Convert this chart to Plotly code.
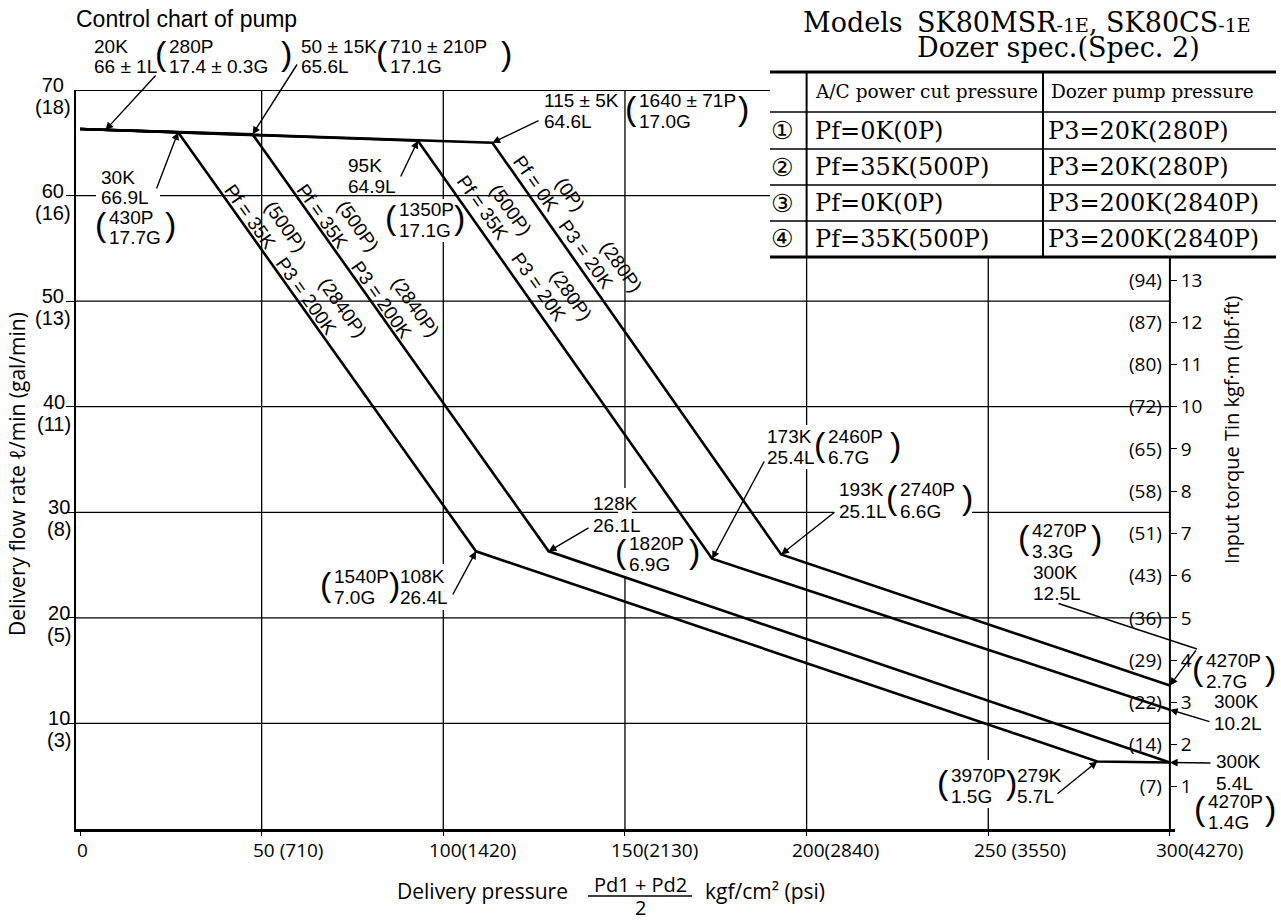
import math
import plotly.graph_objects as go

# ---------------- data ----------------
# delivery pressure kgf/cm2 (x) and delivery flow L/min (y) break points
c1_p = [0, 113.5, 193, 300]        # (1) Pf=0K  P3=20K
c1_q = [66.3, 65.0, 26.0, 13.6]
c2_p = [0, 93, 174, 300]           # (2) Pf=35K P3=20K
c2_q = [66.3, 65.2, 25.6, 11.3]
c3_p = [0, 47.5, 129, 300]         # (3)
c3_q = [66.3, 65.8, 26.3, 6.3]
c4_p = [0, 27, 109, 280, 300]      # (4) Pf=35K P3=200K
c4_q = [66.3, 66.0, 26.3, 6.4, 6.3]
p20_p, p20_q = 7, 66.2             # point marked "20K 66±1L" on the common line

x_ticks = [0, 50, 100, 150, 200, 250, 300]
x_psi = ["", " (710)", "(1420)", "(2130)", "(2840)", " (3550)", "(4270)"]
y_ticks = [10, 20, 30, 40, 50, 60, 70]
y_gal = ["(3)", "(5)", "(8)", "(11)", "(13)", "(16)", "(18)"]
t_ticks = list(range(1, 14))
t_lbf = ["(7)", "(14)", "(22)", "(29)", "(36)", "(43)", "(51)",
         "(58)", "(65)", "(72)", "(80)", "(87)", "(94)"]

tbl_head = ["A/C power cut pressure", "Dozer pump pressure"]
tbl_no = ["①", "②", "③", "④"]
tbl_pf = ["Pf=0K(0P)", "Pf=35K(500P)", "Pf=0K(0P)", "Pf=35K(500P)"]
tbl_p3 = ["P3=20K(280P)", "P3=20K(280P)", "P3=200K(2840P)", "P3=200K(2840P)"]

grid_h_full = [10, 20, 30, 40, 50]
grid_h_short = [60]
grid_v_full = [50, 100, 150]
grid_v_short = [200, 250]

# ---------------- geometry helpers ----------------
WIDTH, HEIGHT = 1281, 922
L, R, T, B = 76, 1175, 90, 829
XMIN, XMAX = -1.1, 301.4
YMIN, YMAX = 0, 70

def dx(px):
    return XMIN + (px - L) / (R - L) * (XMAX - XMIN)

def dy(py):
    return YMIN + (B - py) / (B - T) * (YMAX - YMIN)

def pxp(px):
    return (px - L) / (R - L)

def pyp(py):
    return (B - py) / (B - T)

def px_of(x):
    return L + (x - XMIN) / (XMAX - XMIN) * (R - L)

def py_of(y):
    return B - (y - YMIN) / (YMAX - YMIN) * (B - T)

SANS = "Open Sans"
LAB = "Liberation Sans"
SERIF = "DejaVu Serif"
FS = 19
NB = "\u00a0"
ann = []

def txt(s, px, py, size=FS, xa="left", fam=SANS, ang=0):
    ann.append(dict(text=s, x=pxp(px), y=pyp(py), xref="paper", yref="paper",
                    xanchor=xa, yanchor="middle", showarrow=False,
                    font=dict(family=fam, size=size, color="black"),
                    textangle=ang, borderpad=0))

def raw_stack(text, nlines, px, py_first, lh, xa="left", align="left", fam=LAB):
    yc = py_first + (nlines - 1) * lh / 2
    ann.append(dict(text=text, x=pxp(px), y=pyp(yc), xref="paper", yref="paper",
                    xanchor=xa, yanchor="middle", align=align, showarrow=False,
                    font=dict(family=fam, size=lh / 1.3, color="black"), borderpad=0))

def stack(lines, px, py_first, lh=21, size=FS, xa="left", align="left", fam=LAB):
    """multi-line label with a tight line pitch (lh px)"""
    text = "<br>".join("<span style='font-size:%dpx'>%s</span>" % (size, s) for s in lines)
    raw_stack(text, len(lines), px, py_first, lh, xa=xa, align=align, fam=fam)

def par(s, px, py):
    # tall bracket; "(" : px is right edge ; ")" : px is left edge
    txt(s, px, py - 3, size=34, xa="right" if s == "(" else "left", fam=LAB)

# approximate Liberation Sans advance widths (em)
LSW = {c: 0.556 for c in "0123456789"}
LSW.update({"P": 0.667, "f": 0.278, "K": 0.667, "=": 0.584, " ": 0.278, NB: 0.278,
            "(": 0.333, ")": 0.333})

def tw(s, size=FS):
    return sum(LSW.get(c, 0.55) for c in s) * size

ANG = 54.7
TH = math.radians(ANG)
U = (math.cos(TH), math.sin(TH))
N = (math.sin(TH), -math.cos(TH))

def proj(c, o):
    ddx, ddy = c[0] - o[0], c[1] - o[1]
    return ddx * U[0] + ddy * U[1], ddx * N[0] + ddy * N[1]

def rot_block(l2a, c2a, l2b, c2b, l1a, c1a, l1b, c1b, size=FS):
    """two-line label rotated along a descending line; centres in px"""
    o = c2a
    s2b, t2b = proj(c2b, o)
    s1a, t1a = proj(c1a, o)
    s1b, t1b = proj(c1b, o)
    w2a, w2b, w1a, w1b = tw(l2a), tw(l2b), tw(l1a), tw(l1b)
    st2a, st2b = -w2a / 2, s2b - w2b / 2
    st1a, st1b = s1a - w1a / 2, s1b - w1b / 2
    left = min(st2a, st1a)
    sp = tw(" ")
    k2 = round((st2a - left) / sp)
    g2 = max(1, round((st2b - (st2a + w2a)) / sp))
    k1 = round((st1a - left) / sp)
    g1 = max(1, round((st1b - (st1a + w1a)) / sp))
    line1 = NB * k1 + l1a + NB * g1 + l1b
    line2 = NB * k2 + l2a + NB * g2 + l2b
    W = max(tw(line1), tw(line2))
    sc = left + W / 2
    tl1 = (t1a + t1b) / 2
    tl2 = t2b / 2
    tc = (tl1 + tl2) / 2
    lh = tl1 - tl2
    cx = o[0] + sc * U[0] + tc * N[0]
    cy = o[1] + sc * U[1] + tc * N[1]
    text = "<span style='font-size:%dpx'>%s</span><br><span style='font-size:%dpx'>%s</span>" % (
        size, line1, size, line2)
    ann.append(dict(text=text, x=pxp(cx), y=pyp(cy), xref="paper", yref="paper",
                    xanchor="center", yanchor="middle", align="left", showarrow=False,
                    textangle=ANG, font=dict(family=LAB, size=lh / 1.3, color="black"),
                    borderpad=0))

arrows = []

def arr(hx, hy, tpx, tpy, head=2):
    arrows.append(dict(x=hx, y=hy, xref="x", yref="y", ax=dx(tpx), ay=dy(tpy),
                       axref="x", ayref="y", showarrow=True, arrowhead=head,
                       arrowsize=1.1, arrowwidth=1.4, arrowcolor="black", text="",
                       standoff=0, startstandoff=0))

# ---------------- figure ----------------
fig = go.Figure()
for p, q in [(c1_p, c1_q), (c2_p, c2_q), (c3_p, c3_q), (c4_p, c4_q)]:
    fig.add_trace(go.Scatter(x=p, y=q, mode="lines", line=dict(color="black", width=2.6),
                             hoverinfo="skip", showlegend=False))
fig.add_trace(go.Scatter(x=[None], y=[None], yaxis="y2", showlegend=False, hoverinfo="skip"))
fig.add_trace(go.Scatter(x=[None], y=[None], yaxis="y3", showlegend=False, hoverinfo="skip"))

shapes = []
def hline(y, x0, x1, w=1.3):
    shapes.append(dict(type="line", xref="x", yref="y", x0=x0, x1=x1, y0=y, y1=y,
                       line=dict(color="black", width=w), layer="below"))
def vline(x, y0, y1, w=1.3):
    shapes.append(dict(type="line", xref="x", yref="y", x0=x, x1=x, y0=y0, y1=y1,
                       line=dict(color="black", width=w), layer="below"))
def pline(px0, py0, px1, py1, w=1.5):
    shapes.append(dict(type="line", xref="paper", yref="paper", x0=pxp(px0), x1=pxp(px1),
                       y0=pyp(py0), y1=pyp(py1), line=dict(color="black", width=w)))
def mask(px0, py0, px1, py1):
    # white gap in the grid behind a label (drawn under the curves)
    shapes.append(dict(type="rect", xref="x", yref="y", x0=dx(px0), x1=dx(px1),
                       y0=dy(py1), y1=dy(py0), fillcolor="white",
                       line=dict(width=0), layer="below"))

TABLE_L, TABLE_R = 770, 1276
TB_Y = [72, 112, 149, 185, 221, 257]
for y in grid_h_full:
    hline(y, XMIN, 300)
for y in grid_h_short:
    hline(y, XMIN, dx(TABLE_L))
hline(70, XMIN, dx(TABLE_L), w=2)           # top frame
for x in grid_v_full:
    vline(x, 0, 70)
for x in grid_v_short:
    vline(x, 0, dy(TB_Y[-1]))

# gaps in the grid around labels
x100, x150, x200, x250 = px_of(100), px_of(150), px_of(200), px_of(250)
mask(96, 188, 160, 206)
mask(x100 - 7, 199, x100 + 7, 242)
mask(x100 - 7, 564, x100 + 7, 610)
mask(x150 - 7, 488, x150 + 7, 578)
mask(x200 - 7, 425, x200 + 7, 469)
mask(834, 505, 972, 519)
mask(x250 - 7, 760, x250 + 7, 808)

vline(300, 0, dy(TB_Y[-1]), w=2)            # torque axis line

# table
for i, y in enumerate(TB_Y):
    pline(TABLE_L, y, TABLE_R, y, w=3 if i in (0, len(TB_Y) - 1) else 1.5)
for px in (px_of(200), 1043):
    pline(px, TB_Y[0], px, TB_Y[-1], w=2)
txt(tbl_head[0], 814, 92, size=18.5, fam=SERIF)
txt(tbl_head[1], 1050, 92, size=18.5, fam=SERIF)
for i in range(4):
    yc = (TB_Y[i + 1] + TB_Y[i + 2]) / 2
    txt(tbl_no[i], 782, yc, size=25, xa="center", fam="DejaVu Sans")
    txt(tbl_pf[i], 814, yc, size=24, fam=SERIF)
    txt(tbl_p3[i], 1047, yc, size=24, fam=SERIF)

# titles
txt("Control chart of pump", 75, 19, size=23, fam="Liberation Sans")
txt("Models", 802, 22, size=27, fam=SERIF)
BIG, SMALL = "<span style='font-size:27px'>%s</span>", "<span style='font-size:19px'>%s</span>"
raw_stack(BIG % "SK80MSR" + SMALL % "-1E" + BIG % ", SK80CS" + SMALL % "-1E" + "<br>"
          + BIG % "Dozer spec.(Spec. 2)", 2, 916, 22, lh=25, fam=SERIF)

# axis titles
txt("Delivery flow rate ℓ/min (gal/min)", 17, 474, size=21, xa="center", ang=-90)
txt("Input torque Tin kgf·m (lbf·ft)", 1231, 430, size=20, xa="center", ang=-90)
txt("Delivery pressure", 569, 891, size=21, xa="right")
stack(["Pd1 + Pd2", "2"], 640, 884, lh=23, size=20, xa="center", align="center", fam=SANS)
pline(588, 896, 692, 896, w=1.5)
txt("kgf/cm² (psi)", 704, 891, size=21)

# left tick labels: L/min over (gal/min), centred on each other
for v, g in zip(y_ticks, y_gal):
    stack([str(v), g], 72, py_of(v) - 5, lh=22, size=20, xa="right", align="center")

# bottom tick labels (number centred on the grid line)
DW = 0.572 * FS
for v, psi in zip(x_ticks, x_psi):
    num = str(v)
    ann.append(dict(text=num + psi, x=v, xref="x", y=pyp(850), yref="paper",
                    xanchor="left", yanchor="middle", xshift=-len(num) * DW / 2,
                    showarrow=False, font=dict(family=SANS, size=FS, color="black")))

# ---- point labels ----
stack(["20K", "66 ± 1L"], 93, 46, lh=20)
par("(", 168, 56); stack(["280P", "17.4 ± 0.3G"], 168, 46, lh=20); par(")", 280, 56)
stack(["50 ± 15K", "65.6L"], 300, 46, lh=20)
par("(", 389, 56); stack(["710 ± 210P", "17.1G"], 389, 46, lh=20); par(")", 500, 56)

stack(["30K", "66.9L"], 100, 177, lh=20)
par("(", 108, 227); stack(["430P", "17.7G"], 108, 217, lh=20); par(")", 164, 227)

stack(["95K", "64.9L"], 347, 166, lh=21)
par("(", 398, 220); stack(["1350P", "17.1G"], 398, 209, lh=21); par(")", 453, 220)

stack(["115 ± 5K", "64.6L"], 543, 101, lh=21)
par("(", 638, 111); stack(["1640 ± 71P", "17.0G"], 638, 101, lh=21); par(")", 737, 111)

stack(["128K", "26.1L"], 592, 503, lh=22)
par("(", 628, 554); stack(["1820P", "6.9G"], 628, 543, lh=21); par(")", 688, 554)

par("(", 333, 587); stack(["1540P", "7.0G"], 333, 576, lh=21); par(")", 388, 587)
stack(["108K", "26.4L"], 399, 576, lh=21)

stack(["173K", "25.4L"], 766, 436, lh=21)
par("(", 827, 447); stack(["2460P", "6.7G"], 827, 436, lh=21); par(")", 889, 447)

stack(["193K", "25.1L"], 838, 489, lh=22)
par("(", 899, 500); stack(["2740P", "6.6G"], 899, 489, lh=22); par(")", 961, 500)

par("(", 1031, 540); stack(["4270P", "3.3G"], 1031, 530, lh=21); par(")", 1090, 540)
stack(["300K", "12.5L"], 1032, 572, lh=21)

par("(", 1205, 671); stack(["4270P", "2.7G"], 1205, 660, lh=21); par(")", 1264, 671)
stack(["300K", "10.2L"], 1213, 701, lh=22)

stack(["300K", "5.4L"], 1215, 761, lh=22)
par("(", 1207, 811); stack(["4270P", "1.4G"], 1207, 801, lh=21); par(")", 1264, 811)

par("(", 950, 785); stack(["3970P", "1.5G"], 950, 775, lh=21)
par(")", 1005, 785); stack(["279K", "5.7L"], 1016, 775, lh=21)

# rotated condition labels along the descending lines
rot_block("Pf = 35K", (250, 217), "P3 = 200K", (306, 296), "(500P)", (287, 228), "(2840P)", (343, 309))
rot_block("Pf = 35K", (322, 217), "P3 = 200K", (382, 297), "(500P)", (360, 227), "(2840P)", (417, 309))
rot_block("Pf = 35K", (484, 207), "P3 = 20K", (537, 288), "(500P)", (510, 209), "(280P)", (571, 296))
rot_block("Pf = 0K", (534, 184), "P3 = 20K", (587, 254), "(0P)", (568, 193), "(280P)", (621, 266))

# ---- leader arrows ----
arr(p20_p, p20_q, 157, 74)
arr(c3_p[1], c3_q[1], 298, 63)
arr(c4_p[1], c4_q[1], 156, 190)
arr(c2_p[1], c2_q[1], 400, 178)
arr(c1_p[1], c1_q[1], 540, 120)
arr(c3_p[2], c3_q[2], 590, 527)
arr(c4_p[2], c4_q[2], 452, 596)
arr(c2_p[2], c2_q[2], 765, 460)
arr(c1_p[2], c1_q[2], 836, 511)
arr(c4_p[3], c4_q[3], 1056, 795)
arr(c3_p[3], c3_q[3], 1212, 763)
arr(c2_p[3], c2_q[3], 1211, 722)
arr(dx(1197), dy(649), 1057, 603, head=0)
arr(c1_p[3], c1_q[3], 1197, 649)

pos_r = pxp(px_of(300))
fig.update_layout(
    width=WIDTH, height=HEIGHT, autosize=False,
    margin=dict(l=L, r=WIDTH - R, t=T, b=HEIGHT - B, pad=0),
    paper_bgcolor="white", plot_bgcolor="white", showlegend=False,
    font=dict(family=SANS, size=FS, color="black"),
    xaxis=dict(range=[XMIN, XMAX], showgrid=False, zeroline=False, showline=True,
               linewidth=2.5, linecolor="black", tickvals=x_ticks, ticks="outside",
               ticklen=4, tickwidth=1.3, tickcolor="black", showticklabels=False,
               automargin=False, fixedrange=True),
    yaxis=dict(range=[YMIN, YMAX], showgrid=False, zeroline=False, showline=True,
               linewidth=2, linecolor="black", tickvals=y_ticks[:-1],
               ticks="outside", ticklen=8, tickwidth=1.3, tickcolor="black",
               showticklabels=False, automargin=False, fixedrange=True),
    yaxis2=dict(overlaying="y", side="right", anchor="free", position=pos_r,
                range=[YMIN / 4, YMAX / 4], tickvals=t_ticks, ticktext=[str(t) for t in t_ticks],
                ticks="outside", ticklen=6, tickwidth=1.3, tickcolor="black",
                showline=False, showgrid=False, zeroline=False,
                tickfont=dict(family=SANS, size=FS, color="black"),
                automargin=False, fixedrange=True),
    yaxis3=dict(overlaying="y", side="left", anchor="free", position=pos_r,
                range=[YMIN / 4, YMAX / 4], tickvals=t_ticks, ticktext=t_lbf,
                ticks="", showline=False, showgrid=False, zeroline=False,
                ticklabelstandoff=8,
                tickfont=dict(family=SANS, size=FS, color="black"),
                automargin=False, fixedrange=True),
    shapes=shapes,
    annotations=ann + arrows,
)

fig.write_html("out.html", config={"displayModeBar": False},
               post_script="document.body.style.margin='0';")
